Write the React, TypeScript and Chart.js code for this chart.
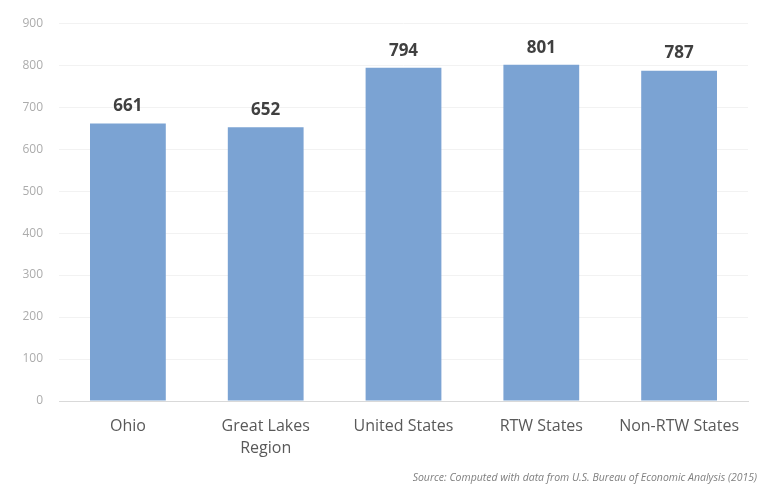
import React, { useEffect, useRef } from "react";
import { Chart, registerables } from "chart.js";

Chart.register(...registerables);

const categories: (string | string[])[] = [
  "Ohio",
  ["Great Lakes", "Region"],
  "United States",
  "RTW States",
  "Non-RTW States",
];
const values: number[] = [661, 652, 794, 801, 787];
const yTicks: number[] = [0, 100, 200, 300, 400, 500, 600, 700, 800, 900];
const sourceNote = "Source: Computed with data from U.S. Bureau of Economic Analysis (2015)";

const FONT = "'Open Sans', 'DejaVu Sans', sans-serif";

const valueLabels = {
  id: "valueLabels",
  afterDatasetsDraw(chart: any) {
    const { ctx } = chart;
    const meta = chart.getDatasetMeta(0);
    ctx.save();
    ctx.font = `bold 17px ${FONT}`;
    ctx.fillStyle = "#404040";
    ctx.textAlign = "center";
    ctx.textBaseline = "middle";
    meta.data.forEach((bar: any, i: number) => {
      ctx.fillText(String(values[i]), bar.x, bar.y - 17);
    });
    ctx.restore();
  },
};

const sourceText = {
  id: "sourceText",
  afterDraw(chart: any) {
    const { ctx, width } = chart;
    ctx.save();
    ctx.font = `italic 10.5px ${FONT}`;
    ctx.fillStyle = "#7f7f7f";
    ctx.textAlign = "right";
    ctx.textBaseline = "middle";
    ctx.fillText(sourceNote, width - 8, 478);
    ctx.restore();
  },
};

export default function App() {
  const ref = useRef<HTMLCanvasElement | null>(null);

  useEffect(() => {
    if (!ref.current) return;
    const chart = new Chart(ref.current, {
      type: "bar",
      data: {
        labels: categories,
        datasets: [
          {
            data: values,
            backgroundColor: "#7ba3d3",
            borderWidth: 0,
            barPercentage: 0.55,
            categoryPercentage: 1,
          },
        ],
      },
      plugins: [valueLabels, sourceText],
      options: {
        animation: false,
        responsive: false,
        maintainAspectRatio: false,
        layout: { padding: { top: 17, right: 17, left: 0, bottom: 0 } },
        plugins: {
          legend: { display: false },
          tooltip: { enabled: false },
        },
        scales: {
          x: {
            grid: { display: false, drawTicks: false },
            border: { display: true, color: "#d9d9d9", width: 1 },
            ticks: {
              color: "#595959",
              font: { family: FONT, size: 16, lineHeight: 1.4 },
              padding: 14,
              maxRotation: 0,
              autoSkip: false,
            },
            afterFit: (s: any) => {
              s.height = 86;
            },
          },
          y: {
            min: 0,
            max: 900,
            afterBuildTicks: (s: any) => {
              s.ticks = yTicks.map((v) => ({ value: v }));
            },
            grid: { color: "#f2f2f2", drawTicks: false },
            border: { display: false },
            ticks: {
              color: "#acacac",
              font: { family: FONT, size: 12 },
              padding: 16,
            },
            afterFit: (s: any) => {
              s.width = 59;
            },
          },
        },
      },
    });
    return () => chart.destroy();
  }, []);

  return (
    <div style={{ position: "fixed", left: 0, top: 0, width: 765, height: 487, background: "#ffffff" }}>
      <canvas ref={ref} width={765} height={487} />
    </div>
  );
}
